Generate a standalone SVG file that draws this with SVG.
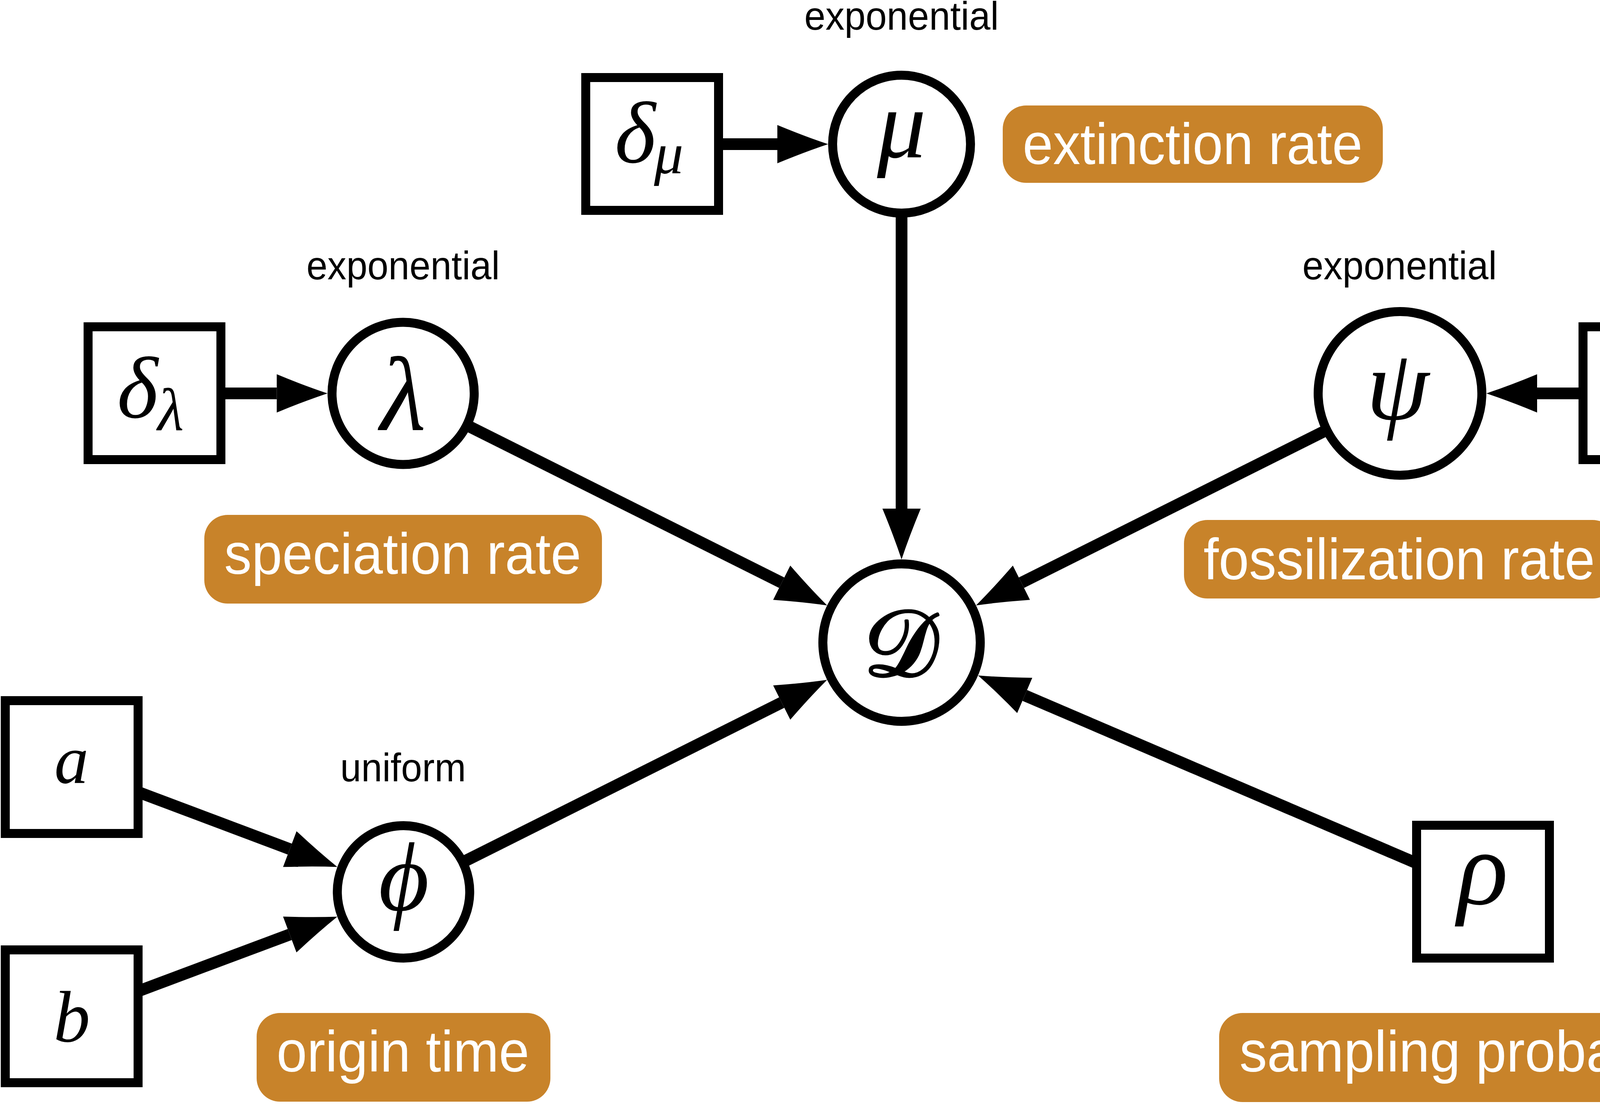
<svg xmlns="http://www.w3.org/2000/svg" width="4475" height="2826" viewBox="0 0 4475 2826">
<style>
.bg{fill:#ffffff}
.circ{fill:#ffffff;stroke:#000000;stroke-width:23}
.box{fill:#ffffff;stroke:#000000;stroke-width:23}
.edge{stroke:#000000;stroke-width:30;fill:none;stroke-linecap:butt;marker-end:url(#ah)}
.lab{fill:#C8832A}
.labt{fill:#ffffff;font-family:"Liberation Sans","Noto Sans",sans-serif;font-size:148px;text-anchor:middle}
.dist{fill:#000000;font-family:"Liberation Sans","Noto Sans",sans-serif;font-size:102px;text-anchor:middle}
.m{fill:#000000;font-family:"Liberation Serif","DejaVu Serif",serif;font-style:italic;text-anchor:middle}
.cal{fill:#000000;stroke:#000000;stroke-width:7;stroke-linejoin:round;font-family:"Liberation Serif","DejaVu Serif",serif;text-anchor:middle}
</style>
<defs>
<marker id="ah" markerUnits="userSpaceOnUse" markerWidth="140" markerHeight="110" viewBox="0 -55 140 110" refX="0" refY="0" orient="auto" overflow="visible">
<path d="M0,-49 Q70,-20 130,0 Q70,20 0,49 Z" fill="#000000"/>
</marker>
</defs>
<rect class="bg" x="0" y="0" width="4475" height="2826"/>
<g id="connectors">
<line class="edge" x1="1670" y1="369" x2="1990" y2="369"/>
<line class="edge" x1="2308" y1="369" x2="2308" y2="1302"/>
<line class="edge" x1="395.5" y1="1007" x2="708.5" y2="1007"/>
<line class="edge" x1="1032" y1="1007" x2="2001.2" y2="1491.6"/>
<line class="edge" x1="3584" y1="1007" x2="2614.8" y2="1491.6"/>
<line class="edge" x1="4222" y1="1007" x2="3935" y2="1007"/>
<line class="edge" x1="3796.5" y1="2282.5" x2="2623.3" y2="1780.1"/>
<line class="edge" x1="1033" y1="2283" x2="2001.2" y2="1798.4"/>
<line class="edge" x1="183.5" y1="1963.5" x2="741.9" y2="2173.5"/>
<line class="edge" x1="183.5" y1="2601" x2="741.8" y2="2392.1"/>
</g>
<g id="node-mu">
<text class="dist" x="2308" y="76" textLength="498" lengthAdjust="spacingAndGlyphs">exponential</text>
<circle class="circ" cx="2308" cy="369" r="176.5"/>
<text class="m" x="2308" y="403" font-size="250">μ</text>
</g>
<g id="node-delta-mu">
<rect class="box" x="1499.5" y="198.5" width="340" height="340"/>
<text class="m" x="1626" y="416" font-size="225">δ</text>
<text class="m" x="1712" y="444" font-size="150">μ</text>
</g>
<g id="label-extinction">
<rect class="lab" x="2567" y="270" width="973" height="198" rx="60" ry="60"/>
<text class="labt" x="3053" y="420" textLength="870" lengthAdjust="spacingAndGlyphs">extinction rate</text>
</g>
<g id="node-lambda">
<text class="dist" x="1032" y="715" textLength="495" lengthAdjust="spacingAndGlyphs">exponential</text>
<circle class="circ" cx="1032" cy="1007" r="182"/>
<text class="m" x="1032" y="1101" font-size="270">λ</text>
</g>
<g id="node-delta-lambda">
<rect class="box" x="225.5" y="836.5" width="340" height="340"/>
<text class="m" x="352" y="1069" font-size="225">δ</text>
<text class="m" x="437" y="1101" font-size="155">λ</text>
</g>
<g id="label-speciation">
<rect class="lab" x="523" y="1318" width="1018" height="227" rx="60" ry="60"/>
<text class="labt" x="1031" y="1469" textLength="914" lengthAdjust="spacingAndGlyphs">speciation rate</text>
</g>
<g id="node-psi">
<text class="dist" x="3583" y="715" textLength="498" lengthAdjust="spacingAndGlyphs">exponential</text>
<circle class="circ" cx="3584" cy="1007" r="209.5"/>
<text class="m" x="3578" y="1073" font-size="258">ψ</text>
</g>
<g id="node-delta-psi">
<rect class="box" x="4052.5" y="836.5" width="340" height="340"/>
<text class="m" x="4165" y="1054" font-size="225">δ</text>
<text class="m" x="4260" y="1085" font-size="150">ψ</text>
</g>
<g id="label-fossilization">
<rect class="lab" x="3031" y="1331" width="1106" height="201" rx="60" ry="60"/>
<text class="labt" x="3582" y="1483" textLength="1002" lengthAdjust="spacingAndGlyphs">fossilization rate</text>
</g>
<g id="node-D">
<circle class="circ" cx="2308" cy="1645" r="201.5"/>
<text class="cal" x="2306" y="1730" font-size="240">𝒟</text>
</g>
<g id="node-phi">
<text class="dist" x="1032" y="2000" textLength="322" lengthAdjust="spacingAndGlyphs">uniform</text>
<circle class="circ" cx="1033" cy="2283" r="169.5"/>
<text class="m" x="1034" y="2330" font-size="250">ϕ</text>
</g>
<g id="node-a">
<rect class="box" x="13.5" y="1793.5" width="340" height="340"/>
<text class="m" x="183" y="2004" font-size="175">a</text>
</g>
<g id="node-b">
<rect class="box" x="13.5" y="2431.5" width="340" height="340"/>
<text class="m" x="184" y="2666" font-size="187">b</text>
</g>
<g id="label-origin">
<rect class="lab" x="657" y="2593" width="752" height="227" rx="60" ry="60"/>
<text class="labt" x="1031.5" y="2743" textLength="647" lengthAdjust="spacingAndGlyphs">origin time</text>
</g>
<g id="node-rho">
<rect class="box" x="3626.5" y="2112.5" width="340" height="340"/>
<text class="m" x="3796" y="2314" font-size="270">ρ</text>
</g>
<g id="label-sampling">
<rect class="lab" x="3121" y="2593" width="1351" height="228" rx="60" ry="60"/>
<text class="labt" x="3797.5" y="2743" textLength="1249" lengthAdjust="spacingAndGlyphs">sampling probability</text>
</g>
</svg>
